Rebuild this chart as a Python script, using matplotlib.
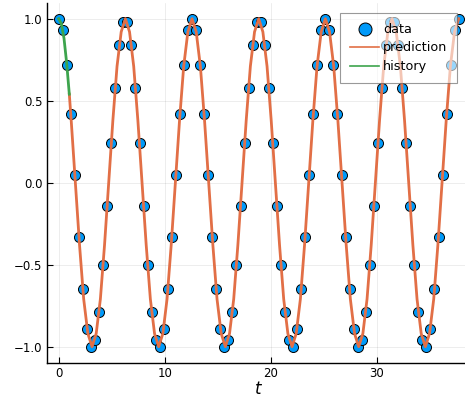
import matplotlib
matplotlib.use('Agg')

import numpy as np
from matplotlib import pyplot as plt

# data: samples of the signal on 100 evenly spaced times from 0 to 12*pi
t_data = np.linspace(0, 37.70, 100)
block = [1.00, 0.93, 0.72, 0.42, 0.05, -0.33, -0.65, -0.89, -1.00, -0.96, -0.79,
         -0.50, -0.14, 0.24, 0.58, 0.84, 0.98, 0.98, 0.84, 0.58, 0.24, -0.14,
         -0.50, -0.79, -0.96, -1.00, -0.89, -0.65, -0.33, 0.05, 0.42, 0.72, 0.93]
y_data = block * 3 + [1.00]

# prediction, from t=1.0 onwards
period = [1.00, 0.92, 0.71, 0.38, 0.00, -0.38, -0.71, -0.92,
          -1.00, -0.92, -0.71, -0.38, 0.00, 0.38, 0.71, 0.92]
t_pred = [1.0] + list(np.linspace(1.178, 37.70, 94))
y_pred = [0.54] + (period * 6)[3:] + [1.00]

# history (the first second)
t_hist = [0.0, 0.25, 0.5, 0.75, 1.0]
y_hist = [1.00, 0.97, 0.88, 0.73, 0.54]

fig = plt.figure(figsize=(4.65, 3.98), dpi=100)
ax = fig.add_axes([46.7 / 465, 1 - 362.7 / 398, 424.0 / 465, 360.0 / 398])

ax.scatter(t_data, y_data, s=52, color='#009AFA', edgecolor='black',
           linewidth=0.7, zorder=2, label='data')
ax.plot(t_pred, y_pred, color='#E26F46', linewidth=2.0, zorder=3, label='prediction')
ax.plot(t_hist, y_hist, color='#3DA44D', linewidth=2.0, zorder=4, label='history')

ax.set_xlim(-1.131, 38.83)
ax.set_ylim(-1.0976, 1.0976)
ax.set_xticks([0, 10, 20, 30])
ax.set_yticks([-1.0, -0.5, 0.0, 0.5, 1.0])
ax.set_yticklabels(['\u22121.0', '\u22120.5', '0.0', '0.5', '1.0'])
ax.tick_params(direction='in', length=4, width=0.8, labelsize=8.5, pad=3)
ax.grid(True, color='black', alpha=0.1, linewidth=0.5)
ax.set_axisbelow(True)
for side in ['top', 'right']:
    ax.spines[side].set_visible(False)
for side in ['left', 'bottom']:
    ax.spines[side].set_linewidth(1.0)
ax.set_xlabel('$t$', fontsize=12, labelpad=0)

leg = ax.legend(loc='upper right', bbox_to_anchor=(457 / 465, 1 - 13 / 398),
                bbox_transform=fig.transFigure, borderaxespad=0, fontsize=9.2,
                fancybox=False, framealpha=0.6, edgecolor='#555555',
                handlelength=2.3, handletextpad=0.3, labelspacing=0.45,
                borderpad=0.75, markerscale=1.3)
leg.get_frame().set_linewidth(0.8)
for line in leg.get_lines():
    line.set_linewidth(1.2)

plt.savefig('out.png', dpi=100)
